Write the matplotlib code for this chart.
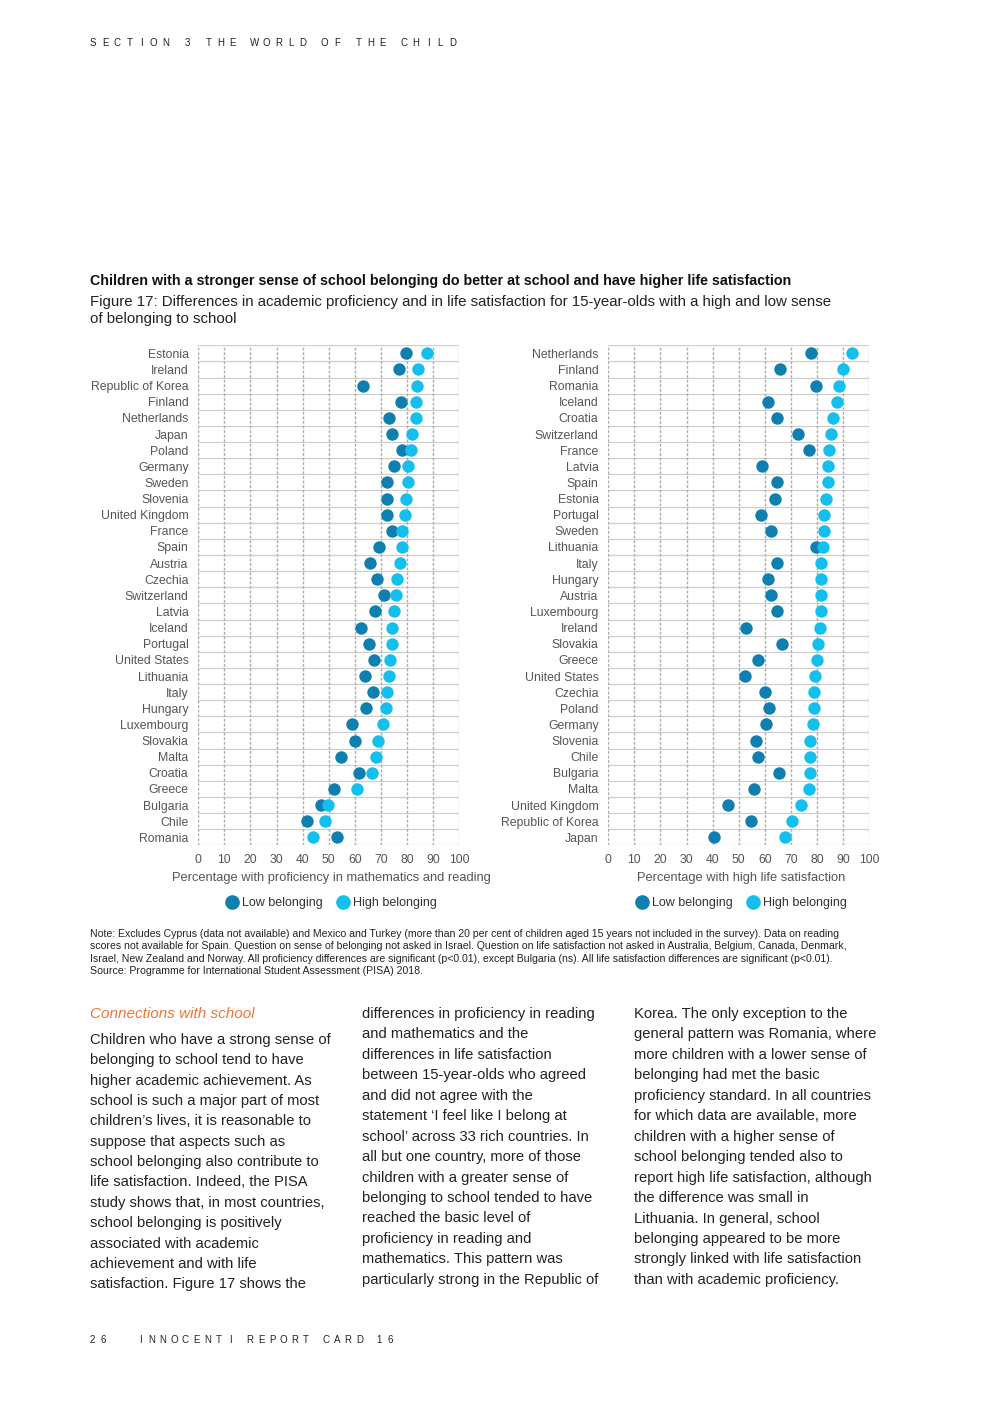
import numpy as np
import matplotlib
matplotlib.use("Agg")
import matplotlib.pyplot as plt
from matplotlib.lines import Line2D

plt.rcParams['font.family'] = ['Liberation Sans', 'DejaVu Sans']

# Data: proficiency (left panel)
prof_countries = ["Estonia", "Ireland", "Republic of Korea", "Finland", "Netherlands",
                  "Japan", "Poland", "Germany", "Sweden", "Slovenia", "United Kingdom",
                  "France", "Spain", "Austria", "Czechia", "Switzerland", "Latvia",
                  "Iceland", "Portugal", "United States", "Lithuania", "Italy", "Hungary",
                  "Luxembourg", "Slovakia", "Malta", "Croatia", "Greece", "Bulgaria",
                  "Chile", "Romania"]
prof_low = [79.5, 76.9, 63.3, 77.9, 73.3, 74.4, 78.0, 74.9, 72.4, 72.4, 72.4,
            74.3, 69.3, 66.0, 68.4, 71.1, 67.7, 62.3, 65.6, 67.3, 63.9, 67.1, 64.2,
            58.8, 60.1, 54.7, 61.8, 51.9, 46.9, 41.7, 53.1]
prof_high = [87.7, 84.1, 84.0, 83.5, 83.5, 82.0, 81.6, 80.6, 80.4, 79.7, 79.2,
             78.3, 78.0, 77.4, 76.3, 76.0, 75.2, 74.3, 74.3, 73.4, 73.3, 72.4, 71.9,
             70.9, 68.8, 68.2, 66.8, 60.9, 49.9, 48.6, 44.1]

# Data: life satisfaction (right panel)
life_countries = ["Netherlands", "Finland", "Romania", "Iceland", "Croatia", "Switzerland",
                  "France", "Latvia", "Spain", "Estonia", "Portugal", "Sweden", "Lithuania",
                  "Italy", "Hungary", "Austria", "Luxembourg", "Ireland", "Slovakia",
                  "Greece", "United States", "Czechia", "Poland", "Germany", "Slovenia",
                  "Chile", "Bulgaria", "Malta", "United Kingdom", "Republic of Korea", "Japan"]
life_low = [77.6, 65.7, 79.5, 61.3, 64.8, 72.9, 76.9, 59.1, 64.8, 64.1, 58.7, 62.5, 79.6,
            64.9, 61.3, 62.4, 64.8, 52.8, 66.7, 57.3, 52.4, 60.1, 61.6, 60.6, 56.6,
            57.3, 65.5, 55.7, 46.0, 54.9, 40.4]
life_high = [93.4, 90.2, 88.5, 87.6, 86.3, 85.5, 84.5, 84.1, 84.1, 83.5, 82.9, 82.8, 82.4,
             81.6, 81.6, 81.7, 81.6, 81.2, 80.6, 80.1, 79.4, 78.9, 78.8, 78.7, 77.4,
             77.4, 77.3, 77.0, 74.1, 70.6, 67.7]

x_ticks = list(range(0, 101, 10))

LOW = "#0e7fae"
HIGH = "#14bfee"
GREY = "#555555"

W, H = 992, 1403
fig = plt.figure(figsize=(W / 100, H / 100), dpi=100)


def px(x, y):
    return x / W, 1 - y / H


def ftext(x, y, s, **kw):
    kw.setdefault("va", "center")
    kw.setdefault("ha", "left")
    fig.text(*px(x, y), s, **kw)


def spaced(x, y, s, pitch, gap, size):
    for ch in s:
        if ch == " ":
            x += gap
            continue
        ftext(x, y, ch, fontsize=size, color="#222222", ha="center")
        x += pitch


def panel(left, countries, low, high, xlabel):
    top, bottom = 345.3, 845.4
    ax = fig.add_axes([left / W, 1 - bottom / H, 260.7 / W, (bottom - top) / H])
    n = len(countries)
    y = np.arange(n)
    for i in range(n + 1):
        ax.axhline(i - 0.5, color="#cfcfcf", lw=0.9, zorder=1)
    for v in x_ticks:
        ax.axvline(v, color="#ababab", lw=1.0, ls=(0, (2, 1.3)), zorder=1)
    ax.scatter(low, y, s=80, color=LOW, zorder=3, linewidths=0)
    ax.scatter(high, y, s=80, color=HIGH, zorder=4, linewidths=0)
    ax.set_xlim(0, 100)
    ax.set_ylim(n - 0.5, -0.5)
    ax.set_yticks(y)
    ax.set_yticklabels(countries)
    ax.set_xticks(x_ticks)
    ax.tick_params(length=0, labelsize=8.8, labelcolor=GREY)
    ax.tick_params(axis="y", pad=7)
    ax.tick_params(axis="x", pad=6)
    for sp in ax.spines.values():
        sp.set_visible(False)
    ax.text(0.51, -0.065, xlabel, transform=ax.transAxes, ha="center", va="center",
            fontsize=9.3, color=GREY)
    handles = [Line2D([], [], marker="o", ls="", color=LOW, markersize=9.5, label="Low belonging"),
               Line2D([], [], marker="o", ls="", color=HIGH, markersize=9.5, label="High belonging")]
    leg = ax.legend(handles=handles, loc="center", bbox_to_anchor=(0.51, -0.115), ncol=2,
                    frameon=False, fontsize=9, handletextpad=0.3, columnspacing=1.1,
                    handlelength=1.0)
    for t in leg.get_texts():
        t.set_color("#333333")
    return ax


panel(198.3, prof_countries, prof_low, prof_high,
      "Percentage with proficiency in mathematics and reading")
panel(608.3, life_countries, life_low, life_high,
      "Percentage with high life satisfaction")

# header / footer
spaced(93, 43, "SECTION 3 THE WORLD OF THE CHILD", 12.1, 9.5, 7)
spaced(92, 1340, "26", 11.3, 0, 7)
spaced(140, 1340, "INNOCENTI REPORT CARD 16", 11.3, 8, 7)

# titles
ftext(90, 281, "Children with a stronger sense of school belonging do better at school and have higher life satisfaction",
      fontsize=10.3, fontweight="bold", color="#111111")
ftext(90, 302, "Figure 17: Differences in academic proficiency and in life satisfaction for 15-year-olds with a high and low sense",
      fontsize=10.8, color="#222222")
ftext(90, 319, "of belonging to school", fontsize=10.8, color="#222222")

# note
note = ["Note: Excludes Cyprus (data not available) and Mexico and Turkey (more than 20 per cent of children aged 15 years not included in the survey). Data on reading",
        "scores not available for Spain. Question on sense of belonging not asked in Israel. Question on life satisfaction not asked in Australia, Belgium, Canada, Denmark,",
        "Israel, New Zealand and Norway. All proficiency differences are significant (p<0.01), except Bulgaria (ns). All life satisfaction differences are significant (p<0.01).",
        "Source: Programme for International Student Assessment (PISA) 2018."]
for i, line in enumerate(note):
    ftext(90, 934 + i * 12.3, line, fontsize=7.6, color="#222222")

# body text
ftext(90, 1014, "Connections with school", fontsize=11, style="italic", color="#e8763a")
col1 = ["Children who have a strong sense of", "belonging to school tend to have",
        "higher academic achievement. As", "school is such a major part of most",
        "children\u2019s lives, it is reasonable to", "suppose that aspects such as",
        "school belonging also contribute to", "life satisfaction. Indeed, the PISA",
        "study shows that, in most countries,", "school belonging is positively",
        "associated with academic", "achievement and with life",
        "satisfaction. Figure 17 shows the"]
col2 = ["differences in proficiency in reading", "and mathematics and the",
        "differences in life satisfaction", "between 15-year-olds who agreed",
        "and did not agree with the", "statement \u2018I feel like I belong at",
        "school\u2019 across 33 rich countries. In", "all but one country, more of those",
        "children with a greater sense of", "belonging to school tended to have",
        "reached the basic level of", "proficiency in reading and",
        "mathematics. This pattern was", "particularly strong in the Republic of"]
col3 = ["Korea. The only exception to the", "general pattern was Romania, where",
        "more children with a lower sense of", "belonging had met the basic",
        "proficiency standard. In all countries", "for which data are available, more",
        "children with a higher sense of", "school belonging tended also to",
        "report high life satisfaction, although", "the difference was small in",
        "Lithuania. In general, school", "belonging appeared to be more",
        "strongly linked with life satisfaction", "than with academic proficiency."]
for i, line in enumerate(col1):
    ftext(90, 1040 + i * 20.35, line, fontsize=10.6, color="#222222")
for i, line in enumerate(col2):
    ftext(362, 1014 + i * 20.45, line, fontsize=10.6, color="#222222")
for i, line in enumerate(col3):
    ftext(634, 1014 + i * 20.45, line, fontsize=10.6, color="#222222")

fig.savefig("out.png", dpi=100)
